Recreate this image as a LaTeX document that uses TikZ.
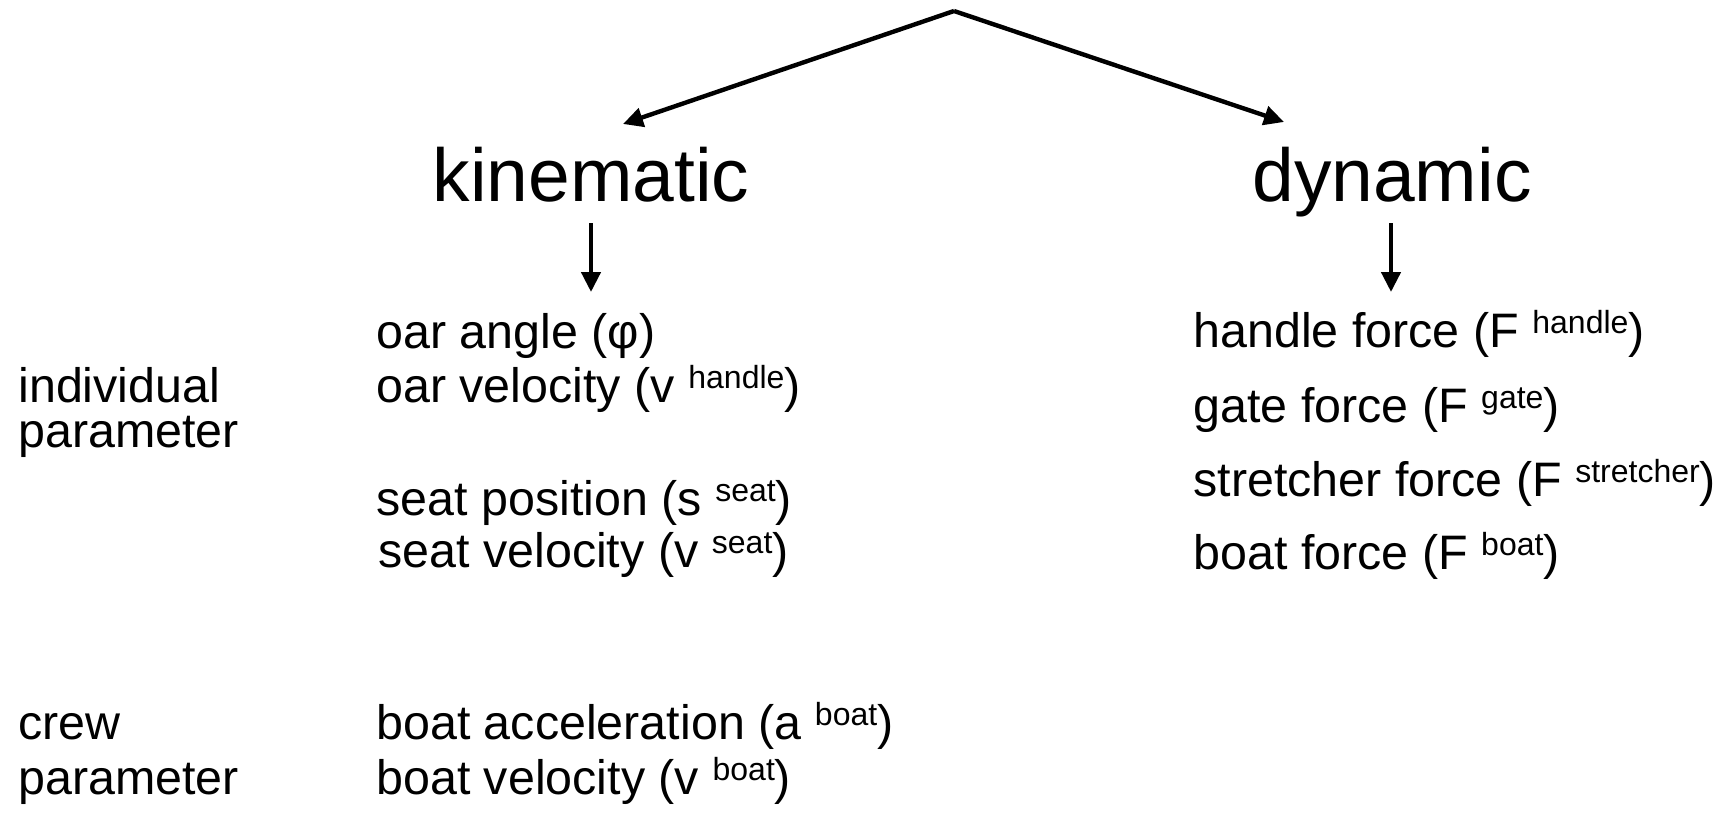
\documentclass[tikz,border=0pt]{standalone}
\usepackage{fontspec}
\setmainfont{Liberation Sans}
\usetikzlibrary{arrows.meta}

% raised, smaller index text, as in (F^{handle})
\newcommand{\idx}[1]{\raisebox{7pt}{\fontsize{16}{16}\selectfont #1}}

\begin{document}
\begin{tikzpicture}[x=0.5pt,y=-0.5pt,
  body/.style={anchor=base west, inner sep=0pt, font=\fontsize{24.2}{28}\selectfont},
  head/.style={anchor=base, inner sep=0pt, font=\fontsize{37.5}{44}\selectfont},
  arr/.style={line width=2.2pt, line cap=butt, -{Triangle[length=10pt,width=9.5pt]}}]

  \useasboundingbox (0,0) rectangle (1724,824);

  % headings
  \node[head] (kin) at (591,201) {kinematic};
  \node[head] (dyn) at (1392,201) {dynamic};

  % connector end points
  \coordinate (top) at (954,11);
  \coordinate (kinIn) at (623,124);
  \coordinate (dynIn) at (1284,122);
  \coordinate (kinOutA) at (591,223);
  \coordinate (kinOutB) at (591,292);
  \coordinate (dynOutA) at (1391,223);
  \coordinate (dynOutB) at (1391,292);

  \draw[arr] (top) -- (kinIn);
  \draw[arr] (top) -- (dynIn);
  \draw[arr] (kinOutA) -- (kinOutB);
  \draw[arr] (dynOutA) -- (dynOutB);

  % row labels
  \node[body] (ind1) at (18,402) {individual};
  \node[body] (ind2) at (18,447) {parameter};
  \node[body] (crew1) at (18,739) {crew};
  \node[body] (crew2) at (18,794) {parameter};

  % kinematic parameters
  \node[body] (k1) at (376,348) {oar angle (φ)};
  \node[body] (k2) at (376,402) {oar velocity (v \idx{handle})};
  \node[body] (k3) at (376,515) {seat position (s \idx{seat})};
  \node[body] (k4) at (378,567) {seat velocity (v \idx{seat})};
  \node[body] (k5) at (376,739) {boat acceleration (a \idx{boat})};
  \node[body] (k6) at (376,794) {boat velocity (v \idx{boat})};

  % dynamic parameters
  \node[body] (d1) at (1193,347) {handle force (F \idx{handle})};
  \node[body] (d2) at (1193,422) {gate force (F \idx{gate})};
  \node[body] (d3) at (1193,496) {stretcher force (F \idx{stretcher})};
  \node[body] (d4) at (1193,569) {boat force (F \idx{boat})};
\end{tikzpicture}
\end{document}
